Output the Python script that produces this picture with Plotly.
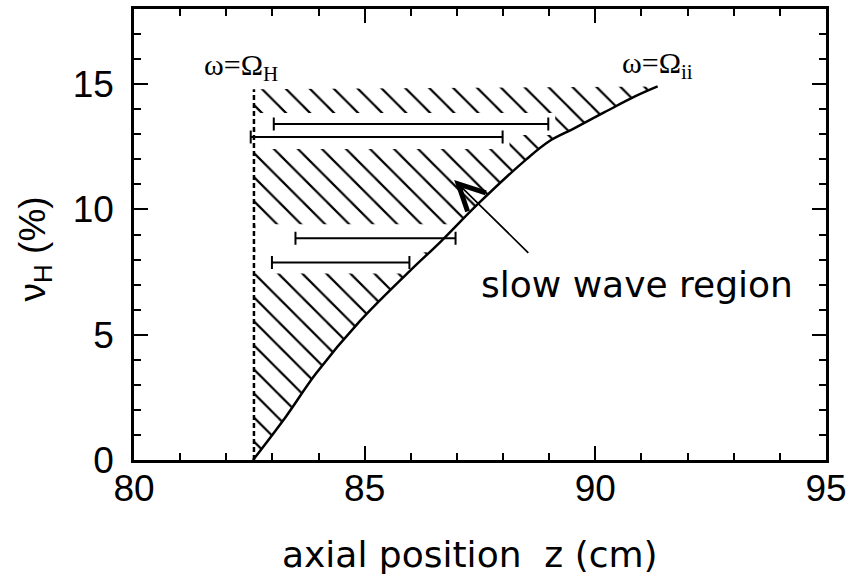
import plotly.graph_objects as go

# ---- data ----
# omega = Omega_ii boundary curve (z in cm, nu_H in %)
curve_z = [82.58, 83.3, 83.94, 84.9, 85.97, 86.65, 87.44, 88.51, 89.0, 89.5, 90.2, 90.87, 91.35]
curve_v = [0.0, 1.75, 3.44, 5.55, 7.53, 8.72, 10.19, 12.01, 12.72, 13.2, 13.88, 14.52, 14.91]

# omega = Omega_H boundary (vertical dashed line)
zH = 82.6
zH_top = 14.8

# horizontal measured ranges (bars with end caps)
bar_v = [13.41, 12.89, 8.85, 7.88]
bar_left = [83.03, 82.53, 83.50, 82.99]
bar_right = [88.98, 87.99, 86.97, 85.97]
halo_w = [22, 24, 28, 22]

x_ticks = [80, 85, 90, 95]
y_ticks = [0, 5, 10, 15]

BLACK = "#000000"
fig = go.Figure()

# hatched slow-wave region
reg_x = [zH, zH] + curve_z[::-1] + [zH]
reg_y = [0, zH_top] + curve_v[::-1] + [0]
fig.add_trace(go.Scatter(
    x=reg_x, y=reg_y, mode="lines", fill="toself",
    line=dict(width=0, color="rgba(0,0,0,0)"),
    fillcolor="white",
    fillpattern=dict(shape="\\", size=17, solidity=0.13,
                     fgcolor=BLACK, fgopacity=1, bgcolor="white"),
    hoverinfo="skip", showlegend=False))

# white gaps in the hatching around the bars
for v, l, r, w in zip(bar_v, bar_left, bar_right, halo_w):
    fig.add_trace(go.Scatter(
        x=[max(min(l, zH), zH + 0.03), r + 0.15], y=[v, v], mode="lines",
        line=dict(color="white", width=w), hoverinfo="skip", showlegend=False))

# dashed omega = Omega_H line
fig.add_trace(go.Scatter(
    x=[zH, zH], y=[0, zH_top], mode="lines",
    line=dict(color=BLACK, width=2.5, dash="5px,3px"),
    hoverinfo="skip", showlegend=False))

# omega = Omega_ii curve
fig.add_trace(go.Scatter(
    x=curve_z, y=curve_v, mode="lines",
    line=dict(color=BLACK, width=2.5, shape="spline", smoothing=1.0),
    hoverinfo="skip", showlegend=False))

# horizontal bars with caps
centers = [(l + r) / 2 for l, r in zip(bar_left, bar_right)]
halves = [(r - l) / 2 for l, r in zip(bar_left, bar_right)]
fig.add_trace(go.Scatter(
    x=centers, y=bar_v, mode="markers",
    marker=dict(size=0.1, color=BLACK, opacity=0),
    error_x=dict(type="data", array=halves, symmetric=True,
                 color=BLACK, thickness=2, width=6.5),
    hoverinfo="skip", showlegend=False))

TICKFONT = dict(family="Liberation Sans, Arial, sans-serif", size=37, color=BLACK)
LABFONT = dict(family="DejaVu Sans, sans-serif", size=36, color=BLACK)
SYMFONT = dict(family="Liberation Serif, Times New Roman, serif", size=30, color=BLACK)

annotations = [
    dict(x=82.32, y=15.7, xref="x", yref="y", text="ω=Ω<sub>H</sub>",
         showarrow=False, font=SYMFONT, xanchor="center", yanchor="middle"),
    dict(x=91.35, y=15.75, xref="x", yref="y", text="ω=Ω<sub>ii</sub>",
         showarrow=False, font=SYMFONT, xanchor="center", yanchor="middle"),
    dict(x=90.9, y=7.0, xref="x", yref="y", text="slow wave region",
         showarrow=False, font=LABFONT, xanchor="center", yanchor="middle"),
    dict(x=86.94, y=11.18, xref="x", yref="y", ax=88.58, ay=8.21,
         axref="x", ayref="y", text="", showarrow=True,
         arrowhead=5, arrowsize=3.0, arrowwidth=1.7, arrowcolor=BLACK),
    dict(x=0.486, y=-0.209, xref="paper", yref="paper",
         text="axial position\u00a0 z (cm)", showarrow=False, font=LABFONT,
         xanchor="center", yanchor="middle"),
    dict(x=-0.143, y=0.467, xref="paper", yref="paper", text="ν<sub>H</sub> (%)",
         showarrow=False, textangle=-90,
         font=dict(family="Liberation Sans, Arial, sans-serif", size=37, color=BLACK),
         xanchor="center", yanchor="middle"),
]

fig.update_layout(
    width=853, height=587,
    margin=dict(l=134, r=21, t=6, b=127),
    paper_bgcolor="white", plot_bgcolor="white",
    showlegend=False,
    annotations=annotations,
    xaxis=dict(range=[80, 95], tickvals=x_ticks, ticktext=[str(t) for t in x_ticks],
               ticks="inside", ticklen=14, tickwidth=2, tickcolor=BLACK,
               minor=dict(dtick=1, ticks="inside", ticklen=7, tickwidth=1.5, tickcolor=BLACK),
               showline=True, linecolor=BLACK, linewidth=2.5, mirror="ticks",
               showgrid=False, zeroline=False, tickfont=TICKFONT,
               ticklabelstandoff=-6),
    yaxis=dict(range=[0, 18], tickvals=y_ticks, ticktext=[str(t) for t in y_ticks],
               ticks="inside", ticklen=14, tickwidth=2, tickcolor=BLACK,
               minor=dict(dtick=1, ticks="inside", ticklen=7, tickwidth=1.5, tickcolor=BLACK),
               showline=True, linecolor=BLACK, linewidth=2.5, mirror="ticks",
               showgrid=False, zeroline=False, tickfont=TICKFONT,
               ticklabelstandoff=10),
)

fig.write_html("out.html")
